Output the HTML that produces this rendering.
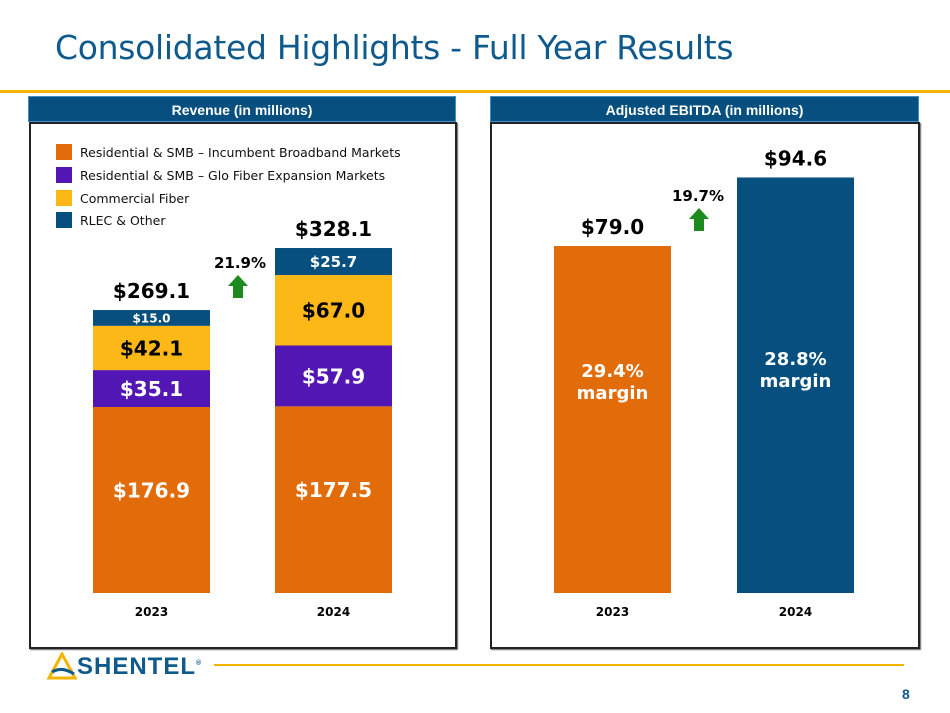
<!DOCTYPE html>
<html><head><meta charset="utf-8"><style>
body{margin:0;width:950px;height:713px;background:#fff;position:relative;overflow:hidden;font-family:"DejaVu Sans","Liberation Sans",sans-serif}
.a{position:absolute}
.hdr{position:absolute;height:26px;background:#064f7e;border:1px solid #3d8fc7;color:#fff;font:bold 14px "Liberation Sans",sans-serif;text-align:center;line-height:26px;box-sizing:border-box}
.box{position:absolute;border:2px solid #222;box-shadow:1px 1px 1px #666;box-sizing:border-box}
.lg{position:absolute;left:56px;font-size:12.5px;color:#111;height:18px;line-height:18px}
.lg i{display:inline-block;width:16px;height:16px;vertical-align:middle;margin-right:8px;margin-top:-3px}
</style></head><body>
<div class="a" style="left:55px;top:28px;font-size:33px;color:#0f5a8c;white-space:nowrap;letter-spacing:-0.3px">Consolidated Highlights - Full Year Results</div>
<div class="a" style="left:0;top:90px;width:950px;height:3px;background:#f5b400"></div>
<div class="hdr" style="left:28px;top:96px;width:428px">Revenue (in millions)</div>
<div class="hdr" style="left:490px;top:96px;width:429px">Adjusted EBITDA (in millions)</div>
<div class="box" style="left:29px;top:122px;width:428px;height:527px"></div>
<div class="box" style="left:490px;top:122px;width:430px;height:527px"></div>
<div class="lg" style="top:144px"><i style="background:#e36c0a"></i>Residential &amp; SMB – Incumbent Broadband Markets</div>
<div class="lg" style="top:167px"><i style="background:#5116b3"></i>Residential &amp; SMB – Glo Fiber Expansion Markets</div>
<div class="lg" style="top:190px"><i style="background:#fbb816"></i>Commercial Fiber</div>
<div class="lg" style="top:212px"><i style="background:#064f7e"></i>RLEC &amp; Other</div>
<svg class="a" style="left:0;top:0" width="950" height="713" id="sv"></svg>
<svg class="a" style="left:47px;top:652px" width="30" height="28"><polygon points="15,2 2,26 28,26" fill="none" stroke="#f5b400" stroke-width="3"/><path d="M5,20 Q15,14 27,22" stroke="#0f5a8c" stroke-width="3" fill="none"/></svg>
<div class="a" style="left:77px;top:653px;font:bold 24px 'Liberation Sans',sans-serif;color:#0f5a8c;letter-spacing:1px">SHENTEL<sup style="font-size:7px">®</sup></div>
<div class="a" style="left:214px;top:664px;width:690px;height:2px;background:#f5b400"></div>
<div class="a" style="left:902px;top:686px;font:bold 14px 'Liberation Sans',sans-serif;color:#0f5a8c">8</div>
<script>
const years=["2023","2024"];
const incumbent=[176.9,177.5];
const glo=[35.1,57.9];
const commercial=[42.1,67.0];
const rlec=[15.0,25.7];
const revTotals=["$269.1","$328.1"];
const revGrowth="21.9%";
const ebitda=[79.0,94.6];
const margins=["29.4%","28.8%"];
const ebitdaGrowth="19.7%";
const NS="http://www.w3.org/2000/svg";
const sv=document.getElementById('sv');
function mk(t,a,txt){const e=document.createElementNS(NS,t);for(const k in a)e.setAttribute(k,a[k]);if(txt!=null)e.textContent=txt;sv.appendChild(e);return e;}
const base=593;
const ry=v=>v*186/176.9;
const ey=v=>v*347/79.0;
const rx=[93,275],ex=[554,737],bw=117;
function txt(x,y,s,size,fill,name){const t=mk('text',{x:x,y:y,'text-anchor':'middle','font-size':size,'font-weight':'bold',fill:fill,'font-family':'DejaVu Sans, sans-serif'},s);

return t;}
function arrow(cx,ty,name){const p=mk('polygon',{points:`${cx},${ty} ${cx+10},${ty+11} ${cx+5},${ty+11} ${cx+5},${ty+23} ${cx-5},${ty+23} ${cx-5},${ty+11} ${cx-10},${ty+11}`,fill:'#1d8a1d'});

}
const segs=[[incumbent,'#e36c0a','#fff',20,'incumbent'],[glo,'#5116b3','#fff',20,'glo-fiber'],[commercial,'#fbb816','#000',20,'commercial-fiber'],[rlec,'#064f7e','#fff',null,'rlec']];
years.forEach((yr,i)=>{
  let acc=0;
  segs.forEach(([arr,col,tc,fs,nm])=>{
    const v=arr[i];const y0=base-ry(acc+v),h=ry(v);
    const r=mk('rect',{x:rx[i],y:y0,width:bw,height:h,fill:col});
    
    
    const size=fs||(i===0?12:15);
    const off=nm==='incumbent'?-10:0;
    txt(rx[i]+bw/2,y0+h/2+size*0.37+off,'$'+v.toFixed(1),size,tc,'value-'+nm+'-'+yr);
    acc+=v;
  });
  txt(rx[i]+bw/2,base-ry(acc)-12,revTotals[i],20,'#000','revenue-total-'+yr);
  txt(rx[i]+bw/2,616,yr,12,'#000','x-label-revenue-'+yr);
  const h=ey(ebitda[i]);
  const r=mk('rect',{x:ex[i],y:base-h,width:bw,height:h,fill:i?'#064f7e':'#e36c0a'});
  
  
  txt(ex[i]+bw/2,base-h-12,'$'+ebitda[i].toFixed(1),20,'#000','ebitda-total-'+yr);
  const my=i?365:377;
  txt(ex[i]+bw/2,my,margins[i],18,'#fff','margin-pct-'+yr);
  txt(ex[i]+bw/2,my+22,'margin',18,'#fff','margin-label-'+yr);
  txt(ex[i]+bw/2,616,yr,12,'#000','x-label-ebitda-'+yr);
});
txt(240,268,revGrowth,15,'#000','revenue-growth');
arrow(238,275,'revenue-growth-arrow');
txt(698,201,ebitdaGrowth,15,'#000','ebitda-growth');
arrow(699,208,'ebitda-growth-arrow');
</script>
</body></html>
